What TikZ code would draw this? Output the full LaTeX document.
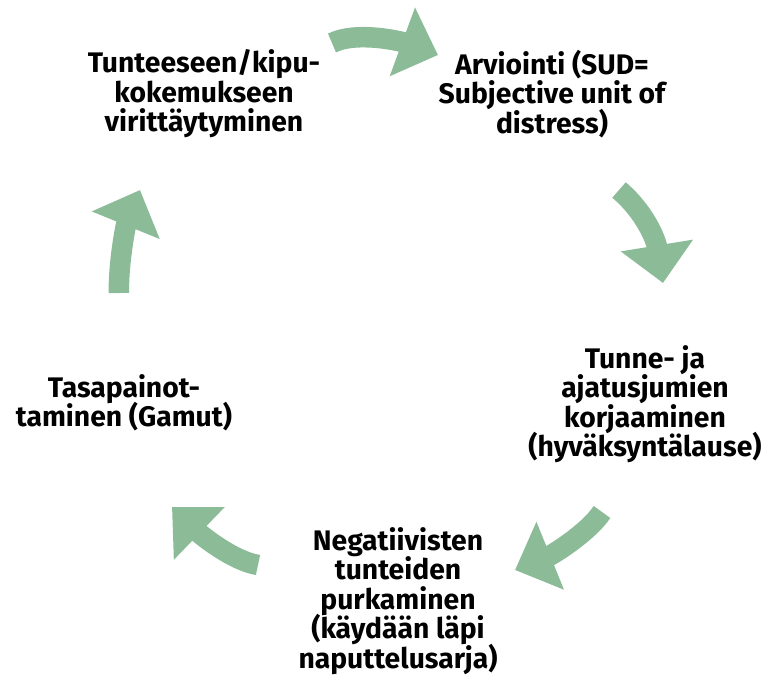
\documentclass[tikz,border=0pt]{standalone}
\usepackage{fontspec}
\setmainfont{Fira Sans}
\usetikzlibrary{arrows.meta,positioning}
\definecolor{cyclegreen}{RGB}{139,188,151}
\newcommand{\steptextfont}{\bfseries\fontsize{16.1}{16.8}\selectfont\setlength{\lineskiplimit}{-20pt}}
\tikzset{
steptext/.style={
  align=center,
  inner sep=0pt,
  font=\steptextfont
  },
cyclearrow/.style={
  draw=cyclegreen,
  line width=0.41cm,
  line cap=butt,
  -{Triangle[length=0.76cm,width=1.42cm]}
  }
}

\begin{document}
\begin{tikzpicture}[x=0.02cm,y=-0.02cm]
\useasboundingbox (0,0) rectangle (772,677);
\node[steptext] (viritys) at (204,94)
  {Tunteeseen/kipu-\\kokemukseen\\virittäytyminen};
\node[steptext] (arviointi) at (552,94)
  {Arviointi (SUD=\\Subjective unit of\\distress)};
\node[steptext] (korjaus) at (645,404)
  {Tunne- ja\\ajatusjumien\\korjaaminen\\(hyväksyntälause)};
\node[steptext] (purku) at (398,601)
  {Negatiivisten\\tunteiden\\purkaminen\\(käydään läpi\\naputtelusarja)};
\node[steptext] (tasapaino) at (124,403)
  {Tasapainot-\\taminen (Gamut)};
\coordinate (a1s) at (332,43);
\coordinate (a1e) at (438,55);
\coordinate (a2s) at (619,190);
\coordinate (a2e) at (663,283);
\coordinate (a3s) at (602,512);
\coordinate (a3e) at (515,570);
\coordinate (a4s) at (258,565);
\coordinate (a4e) at (172,507);
\coordinate (a5s) at (119,293);
\coordinate (a5e) at (140,190);
\draw[cyclearrow] (a1s) .. controls (356,31) and (400,41) .. (a1e);
\draw[cyclearrow] (a2s) .. controls (645,212) and (656,240) .. (a2e);
\draw[cyclearrow] (a3s) .. controls (588,533) and (552,555) .. (a3e);
\draw[cyclearrow] (a4s) .. controls (233,561) and (201,535) .. (a4e);
\draw[cyclearrow] (a5s) .. controls (118,268) and (125,227) .. (a5e);
\end{tikzpicture}
\end{document}
